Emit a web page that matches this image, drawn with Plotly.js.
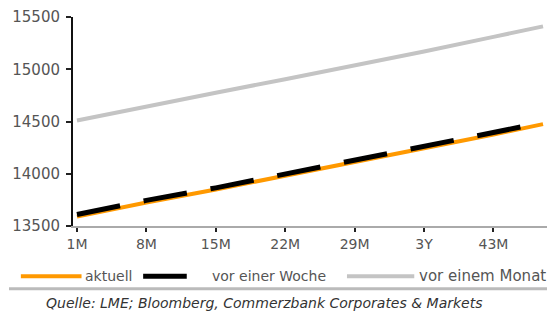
<!DOCTYPE html>
<html><head><meta charset="utf-8">
<script src="https://cdn.plot.ly/plotly-3.0.1.min.js"></script>
<style>html,body{margin:0;padding:0;background:#fff;}#c{width:547px;height:311px;}</style>
</head><body><div id="c"></div>
<script>
const months = [1, 8, 15, 22, 29, 36, 43, 48];
const tickVals = [1, 8, 15, 22, 29, 36, 43];
const tickLabels = ["1M", "8M", "15M", "22M", "29M", "3Y", "43M"];
const yTicks = [13500, 14000, 14500, 15000, 15500];
const aktuell = [13590, 13725, 13850, 13980, 14110, 14245, 14375, 14475];
const vorEinerWoche = [13610, 13745, 13865, 13995, 14125, 14260, 14390, 14490];
const vorEinemMonat = [14510, 14645, 14775, 14905, 15035, 15170, 15310, 15410];
const seriesNames = ["aktuell", "vor einer Woche", "vor einem Monat"];
const sourceText = "Quelle: LME; Bloomberg, Commerzbank Corporates & Markets";

const font = "DejaVu Sans, Liberation Sans, Arial, sans-serif";
const traces = [
  {x: months, y: vorEinemMonat, mode: "lines", name: seriesNames[2], line: {color: "#c4c4c4", width: 4}},
  {x: months, y: aktuell, mode: "lines", name: seriesNames[0], line: {color: "#ff9900", width: 4}},
  {x: months, y: vorEinerWoche, mode: "lines", name: seriesNames[1], line: {color: "#000000", width: 5, dash: "44px,24px"}}
];
const legY = -0.24;
const layout = {
  width: 547, height: 311,
  margin: {l: 73, r: 0, t: 17, b: 85},
  paper_bgcolor: "#fff", plot_bgcolor: "#fff",
  showlegend: false,
  font: {family: font, size: 14, color: "#555"},
  xaxis: {range: [0.6, 48.4], tickvals: tickVals, ticktext: tickLabels, showgrid: false, zeroline: false,
    showline: true, linecolor: "#aaaaaa", linewidth: 2, ticks: "outside", ticklen: 4, tickcolor: "#222", tickwidth: 2,
    tickfont: {family: font, size: 14, color: "#555"}},
  yaxis: {range: [13500, 15500], tickvals: yTicks, ticktext: yTicks.map(String), showgrid: false, zeroline: false,
    showline: true, linecolor: "#111", linewidth: 2, ticks: "outside", ticklen: 5, tickcolor: "#222", tickwidth: 2,
    ticklabelstandoff: 3,
    tickfont: {family: font, size: 15, color: "#555"}},
  shapes: [
    {type: "line", xref: "paper", yref: "paper", x0: -0.11, x1: 0.018, y0: legY, y1: legY, line: {color: "#ff9900", width: 4}},
    {type: "line", xref: "paper", yref: "paper", x0: 0.148, x1: 0.24, y0: legY, y1: legY, line: {color: "#000", width: 5}},
    {type: "line", xref: "paper", yref: "paper", x0: 0.578, x1: 0.72, y0: legY, y1: legY, line: {color: "#c4c4c4", width: 4}},
    {type: "line", xref: "paper", yref: "paper", x0: -0.135, x1: 1.0, y0: -0.30, y1: -0.30, line: {color: "#bbbbbb", width: 3}}
  ],
  annotations: [
    {xref: "paper", yref: "paper", x: 0.022, y: legY, xanchor: "left", yanchor: "middle", text: seriesNames[0], showarrow: false, font: {family: font, size: 14, color: "#555"}},
    {xref: "paper", yref: "paper", x: 0.29, y: legY, xanchor: "left", yanchor: "middle", text: seriesNames[1], showarrow: false, font: {family: font, size: 14, color: "#555"}},
    {xref: "paper", yref: "paper", x: 0.726, y: legY, xanchor: "left", yanchor: "middle", text: seriesNames[2], showarrow: false, font: {family: font, size: 15, color: "#555"}},
    {xref: "paper", yref: "paper", x: -0.062, y: -0.37, xanchor: "left", yanchor: "middle", text: "<i>" + sourceText + "</i>", showarrow: false, font: {family: font, size: 14, color: "#333"}}
  ]
};
Plotly.newPlot("c", traces, layout, {staticPlot: true, displayModeBar: false});
</script></body></html>
